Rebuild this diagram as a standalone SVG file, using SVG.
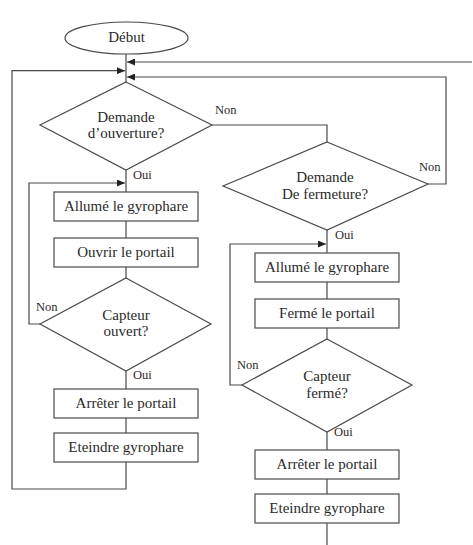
<svg xmlns="http://www.w3.org/2000/svg" width="473" height="545" viewBox="0 0 473 545">
<style>
.s{fill:#fff;stroke:#4a4a4a;stroke-width:1.2}
.c{fill:none;stroke:#4a4a4a;stroke-width:1.2}
.t{font-family:'Liberation Serif','Times New Roman',serif;font-size:15px;fill:#2a2a2a;text-anchor:middle;dominant-baseline:central}
.l{font-family:'Liberation Serif','Times New Roman',serif;font-size:12.5px;fill:#2a2a2a;dominant-baseline:central}
</style>
<defs>
<marker id="a" markerUnits="userSpaceOnUse" markerWidth="8" markerHeight="7" refX="8" refY="3.5" orient="auto">
<path d="M0,0 L8,3.5 L0,7 z" fill="#222"/>
</marker>
</defs>
<rect width="473" height="545" fill="#fff"/>
<g id="connectors">
<path class="c" d="M126,54 V82"/>
<path class="c" d="M472,62 H127" marker-end="url(#a)"/>
<path class="c" d="M428,184 H446 V77 H127" marker-end="url(#a)"/>
<path class="c" d="M126,462 V489 H12 V70.7 H125" marker-end="url(#a)"/>
<path class="c" d="M212,125 H327 V142"/>
<path class="c" d="M126,170 V192"/>
<path class="c" d="M40,324 H29 V183 H125" marker-end="url(#a)"/>
<path class="c" d="M126,221 V238"/>
<path class="c" d="M126,267 V278"/>
<path class="c" d="M126,371 V389"/>
<path class="c" d="M126,418 V433"/>
<path class="c" d="M327,230 V253"/>
<path class="c" d="M242,385 H230 V244 H326" marker-end="url(#a)"/>
<path class="c" d="M327,282 V299"/>
<path class="c" d="M327,328 V339"/>
<path class="c" d="M327,432 V450"/>
<path class="c" d="M327,479 V494"/>
<path class="c" d="M327,523 V545"/>
</g>
<g id="debut">
<ellipse class="s" cx="126.5" cy="38" rx="61.5" ry="16"/>
<text class="t" x="126.5" y="37" font-family="Liberation Serif">Début</text>
</g>
<g id="demande-ouverture">
<polygon class="s" points="126,82 212,125 126,170 40,125"/>
<text class="t" x="126" y="117">Demande</text>
<text class="t" x="126" y="133">d’ouverture?</text>
</g>
<g id="allume-1">
<rect class="s" x="54" y="192" width="144" height="29"/>
<text class="t" x="126" y="206">Allumé le gyrophare</text>
</g>
<g id="ouvrir">
<rect class="s" x="54" y="238" width="144" height="29"/>
<text class="t" x="126" y="252">Ouvrir le portail</text>
</g>
<g id="capteur-ouvert">
<polygon class="s" points="126,278 211,324 126,371 40,324"/>
<text class="t" x="126" y="315">Capteur</text>
<text class="t" x="126" y="331">ouvert?</text>
</g>
<g id="arreter-1">
<rect class="s" x="54" y="389" width="144" height="29"/>
<text class="t" x="126" y="403">Arrêter le portail</text>
</g>
<g id="eteindre-1">
<rect class="s" x="54" y="433" width="144" height="29"/>
<text class="t" x="126" y="447">Eteindre gyrophare</text>
</g>
<g id="demande-fermeture">
<polygon class="s" points="327,142 428,184 327,230 223,186"/>
<text class="t" x="325" y="177">Demande</text>
<text class="t" x="325" y="194">De fermeture?</text>
</g>
<g id="allume-2">
<rect class="s" x="255" y="253" width="144" height="29"/>
<text class="t" x="327" y="267">Allumé le gyrophare</text>
</g>
<g id="ferme">
<rect class="s" x="255" y="299" width="144" height="29"/>
<text class="t" x="327" y="313">Fermé le portail</text>
</g>
<g id="capteur-ferme">
<polygon class="s" points="327,339 412,385 327,432 242,385"/>
<text class="t" x="327" y="376">Capteur</text>
<text class="t" x="327" y="393">fermé?</text>
</g>
<g id="arreter-2">
<rect class="s" x="255" y="450" width="144" height="29"/>
<text class="t" x="327" y="464">Arrêter le portail</text>
</g>
<g id="eteindre-2">
<rect class="s" x="255" y="494" width="144" height="29"/>
<text class="t" x="327" y="508">Eteindre gyrophare</text>
</g>
<g id="labels">
<text class="l" x="215" y="110">Non</text>
<text class="l" x="419" y="167">Non</text>
<text class="l" x="335" y="235">Oui</text>
<text class="l" x="133" y="175">Oui</text>
<text class="l" x="36" y="307">Non</text>
<text class="l" x="133" y="375">Oui</text>
<text class="l" x="237" y="365">Non</text>
<text class="l" x="334" y="432">Oui</text>
</g>
</svg>
